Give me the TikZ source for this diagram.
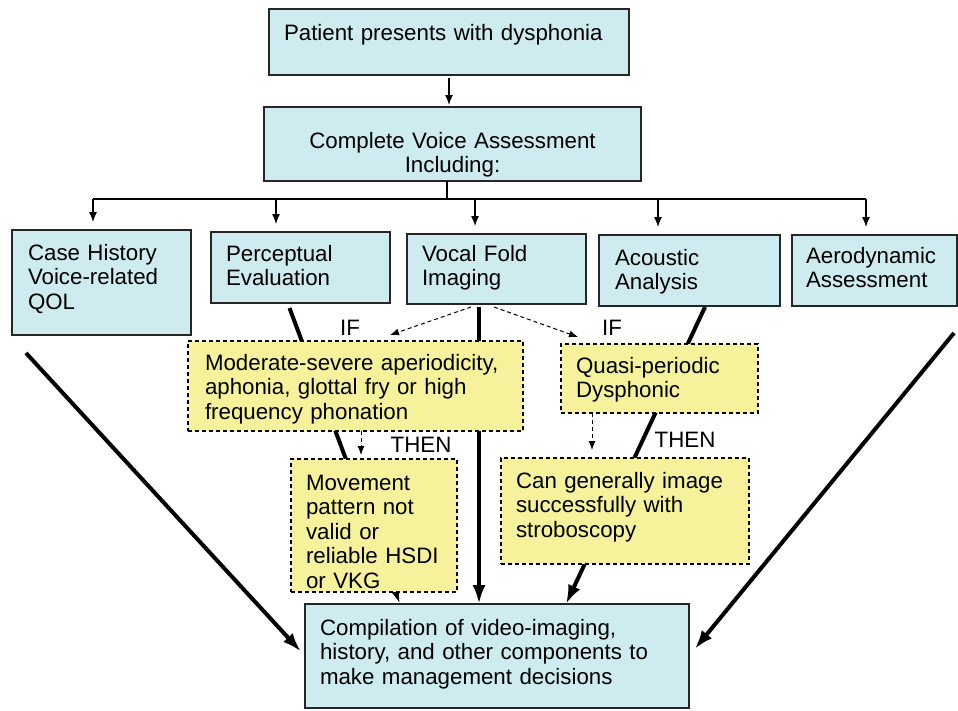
\documentclass[tikz,border=0pt]{standalone}
\usepackage{fontspec}
\setmainfont{Liberation Sans}
\usepackage{tikz}
\usetikzlibrary{arrows.meta,calc}
\pgfdeclarelayer{background}
\pgfsetlayers{background,main}
\definecolor{boxblue}{RGB}{206,235,240}
\definecolor{boxyellow}{RGB}{245,242,155}

\begin{document}
\begin{tikzpicture}[x=1pt,y=-1pt,
    every node/.style={font=\fontsize{22.3}{24.5}\selectfont},
    bluebox/.style={draw=black!85, line width=1.3pt, fill=boxblue, anchor=north west,
        align=left, outer sep=0pt, text height=17pt},
    yellowbox/.style={draw=black, line width=1.1pt, dash pattern=on 4pt off 3pt,
        fill=boxyellow, anchor=north west, align=left, outer sep=0pt, text height=17pt},
    thinarrow/.style={-{Latex[length=10pt,width=8pt]}, line width=1.3pt},
    thickarrow/.style={-{Latex[length=19pt,width=13pt]}, line width=4pt},
    dasharrow/.style={-{Latex[length=9pt,width=7pt]}, line width=1pt, dash pattern=on 4pt off 3pt},
    lbl/.style={inner sep=0pt}]
    \useasboundingbox (0,0) rectangle (958,710);

    % Top of the chart
    \node[bluebox, text width=330pt, inner xsep=15pt, inner ysep=14pt, text depth=21pt]
        (patient) at (269,9) {Patient presents with dysphonia};
    \node[bluebox, align=center, text width=347pt, inner xsep=15pt, inner ysep=24pt, text depth=9pt]
        (assess) at (264,107) {Complete Voice Assessment\\Including:};

    % Assessment components
    \node[bluebox, text width=147pt, inner xsep=16pt, inner ysep=13pt, text depth=62pt]
        (history) at (12,230) {Case History\\Voice-related\\QOL};
    \node[bluebox, text width=149pt, inner xsep=15pt, inner ysep=12pt, text depth=30pt]
        (percept) at (211,232) {Perceptual\\Evaluation};
    \node[bluebox, text width=149pt, inner xsep=15pt, inner ysep=10pt, text depth=33pt]
        (imaging) at (407,234) {Vocal Fold\\Imaging};
    \node[bluebox, text width=149pt, inner xsep=16pt, inner ysep=13pt, text depth=28pt]
        (acoustic) at (599,235) {Acoustic\\Analysis};
    \node[bluebox, text width=137pt, inner xsep=14pt, inner ysep=11pt, text depth=32pt]
        (aero) at (792,235) {Aerodynamic\\Assessment};

    % IF / THEN boxes
    \node[yellowbox, text width=301pt, inner xsep=17pt, inner ysep=12pt, text depth=49pt]
        (severe) at (188,341) {Moderate-severe aperiodicity,\\aphonia, glottal fry or high\\frequency phonation};
    \node[yellowbox, text width=167pt, inner xsep=15pt, inner ysep=12pt, text depth=28pt]
        (quasi) at (561,344) {Quasi-periodic\\Dysphonic};
    \node[yellowbox, text width=136pt, inner xsep=15pt, inner ysep=14pt, text depth=88pt]
        (movement) at (291,459) {Movement\\pattern not\\valid or\\reliable HSDI\\or VKG};
    \node[yellowbox, text width=218pt, inner xsep=15pt, inner ysep=13pt, text depth=63pt]
        (general) at (501,458) {Can generally image\\successfully with\\stroboscopy};

    % Final box
    \node[bluebox, text width=354pt, inner xsep=15pt, inner ysep=14pt, text depth=59pt]
        (result) at (305,604) {Compilation of video-imaging,\\history, and other components to\\make management decisions};

    % Labels
    \node[lbl] (if1) at (350,328) {IF};
    \node[lbl] (if2) at (612,328) {IF};
    \node[lbl] (then1) at (421,445) {THEN};
    \node[lbl] (then2) at (685,440) {THEN};

    % Thin connectors
    \draw[thinarrow, shorten <=3pt, shorten >=2pt] (patient.south) -- (patient.south |- assess.north);
    \coordinate (bus) at (447,199);
    \coordinate (bus1) at (93,199);
    \coordinate (bus2) at (276,199);
    \coordinate (bus3) at (475,199);
    \coordinate (bus4) at (658,199);
    \coordinate (bus5) at (866,199);
    \draw[line width=1.3pt] (assess.south -| bus) -- (bus);
    \draw[line width=1.3pt] (bus1) -- (bus5);
    \draw[thinarrow, shorten >=8pt] (bus1) -- (bus1 |- history.north);
    \draw[thinarrow, shorten >=8pt] (bus2) -- (bus2 |- percept.north);
    \draw[thinarrow, shorten >=8pt] (bus3) -- (bus3 |- imaging.north);
    \draw[thinarrow, shorten >=8pt] (bus4) -- (bus4 |- acoustic.north);
    \draw[thinarrow, shorten >=8pt] (bus5) -- (bus5 |- aero.north);

    % Dashed IF/THEN connectors
    \draw[dasharrow] ($(imaging.south)+(-25.5,3)$) -- ($(severe.north)+(34.5,-6)$);
    \draw[dasharrow] ($(imaging.south)+(-2.5,3)$) -- ($(quasi.north)+(-81.5,-7)$);
    \draw[dasharrow] ($(severe.south)+(5.5,0)$) -- ($(movement.north)+(-13,-4)$);
    \draw[dasharrow] ($(quasi.south)+(-67.5,0)$) -- ($(general.north)+(-33,-8)$);

    % Thick connectors, behind the boxes
    \coordinate (histtail) at (26,353);
    \coordinate (aerotail) at (954,333);
    \begin{pgfonlayer}{background}
        \draw[thickarrow] ($(percept.south)+(-11,5)$) -- ($(result.north)+(-97,0)$);
        \draw[thickarrow] ($(imaging.south)+(-17.5,3)$) -- ($(result.north)+(-18,0)$);
        \draw[thickarrow] ($(acoustic.south)+(15.5,1)$) -- ($(result.north)+(69,0)$);
        \draw[thickarrow, shorten >=6pt] (histtail) -- (result.west);
        \draw[thickarrow, shorten >=9pt] (aerotail) -- (result.east);
    \end{pgfonlayer}
\end{tikzpicture}
\end{document}
